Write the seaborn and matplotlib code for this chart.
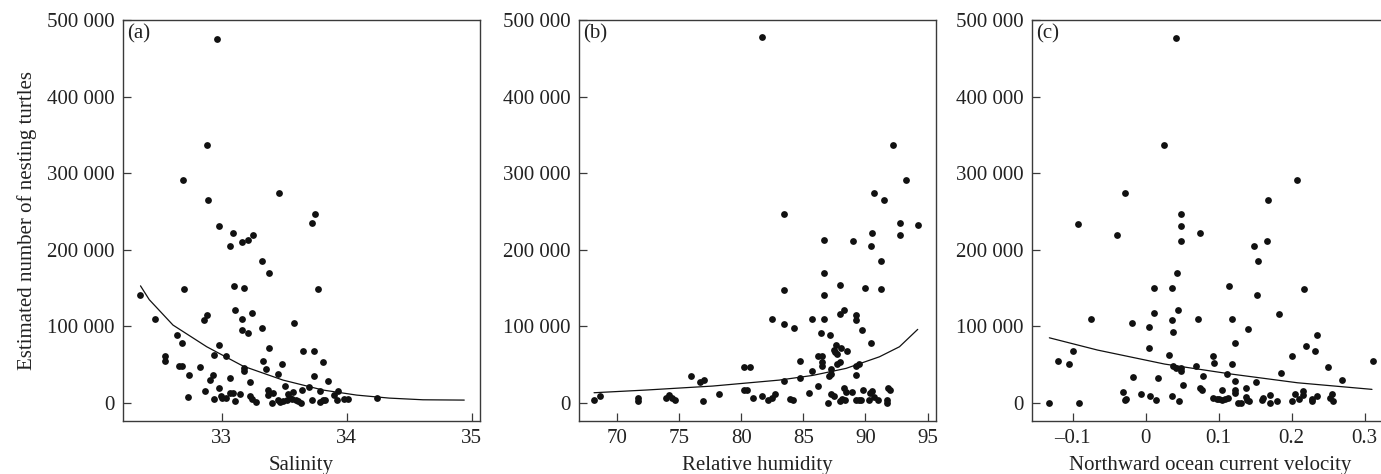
import numpy as np
import pandas as pd
import seaborn as sns
import matplotlib
matplotlib.use("Agg")
import matplotlib.pyplot as plt
from matplotlib.ticker import FuncFormatter, FixedLocator

# (a) salinity
salinity = [32.35, 32.47, 32.55, 32.55, 32.64, 32.68, 32.66, 32.68, 32.69, 32.70,
            32.74, 32.73, 32.83, 32.87, 32.86, 32.88, 32.88, 32.89, 32.91, 32.93,
            32.94, 32.94, 32.96, 32.98, 32.98, 32.98, 32.99, 33.00, 33.03, 33.03,
            33.07, 33.07, 33.09, 33.07, 33.09, 33.10, 33.11, 33.11, 33.15, 33.16,
            33.16, 33.16, 33.18, 33.18, 33.18, 33.21, 33.21, 33.25, 33.24, 33.23,
            33.23, 33.24, 33.27, 33.32, 33.32, 33.33, 33.35, 33.38, 33.38, 33.37,
            33.37, 33.41, 33.40, 33.45, 33.45, 33.46, 33.48, 33.47, 33.49, 33.51,
            33.52, 33.53, 33.55, 33.56, 33.58, 33.57, 33.59, 33.61, 33.63, 33.64,
            33.65, 33.70, 33.72, 33.72, 33.74, 33.74, 33.75, 33.77, 33.79, 33.79,
            33.81, 33.81, 33.83, 33.85, 33.90, 33.93, 33.92, 33.98, 34.01, 34.24]
turtles_a = [141100, 110200, 61400, 54900, 89300, 78800, 48300, 48300, 290900, 148500,
             37000, 8300, 46600, 15700, 108400, 115400, 336200, 264800, 29600, 36100,
             63100, 4800, 475600, 231700, 75300, 20000, 8700, 7000, 7000, 61800,
             32700, 205600, 222100, 13500, 13100, 152900, 121100, 3000, 11800, 210800,
             110200, 95800, 150700, 45300, 41800, 212500, 91500, 219500, 117600, 27000,
             9600, 5200, 1700, 185500, 98400, 54400, 44900, 169800, 71400, 16500,
             10500, 13100, 400, 38300, 3500, 274800, 51000, 1300, 2200, 22200,
             3500, 11300, 7000, 5200, 104100, 14800, 3500, 2600, 400, 16500,
             67900, 20900, 235200, 3500, 67900, 34800, 247400, 149400, 15700, 1300,
             3500, 53600, 3500, 28700, 10000, 15200, 3500, 5700, 5200, 6500]
sal_fit_x = [32.35, 32.42, 32.61, 32.88, 33.17, 33.49, 33.81, 34.08, 34.34, 34.61, 34.94]
sal_fit_y = [153000, 135000, 101800, 73500, 48300, 30000, 17000, 10400, 6500, 4300, 3900]

# (b) relative humidity
humidity = [68.17, 68.68, 71.72, 71.72, 73.97, 74.19, 74.43, 74.67, 75.93, 76.71,
            76.98, 76.95, 78.21, 80.23, 80.74, 80.20, 80.47, 80.95, 81.70, 81.70,
            82.16, 82.46, 82.72, 82.48, 83.48, 83.48, 83.48, 83.48, 83.96, 84.17,
            84.23, 84.71, 84.71, 85.46, 85.70, 85.70, 86.19, 86.19, 86.48, 86.46,
            86.48, 86.48, 86.70, 86.70, 86.70, 86.70, 86.97, 87.18, 87.23, 87.05,
            87.21, 87.23, 87.50, 87.45, 87.58, 87.66, 87.72, 87.99, 87.72, 87.96,
            87.93, 87.93, 88.26, 87.93, 88.12, 88.26, 88.44, 88.39, 88.52, 88.90,
            88.98, 89.22, 89.22, 89.22, 89.22, 89.49, 89.25, 89.49, 89.65, 89.73,
            89.76, 89.95, 90.27, 90.40, 90.51, 90.46, 90.46, 90.51, 90.70, 90.67,
            91.02, 91.21, 91.21, 91.45, 91.72, 91.72, 91.80, 92.01, 92.20, 92.74,
            92.74, 93.22, 94.20]
turtles_b = [3500, 9100, 6500, 2200, 7000, 10000, 6500, 3500, 34800, 27400,
             30500, 2200, 12200, 46600, 46600, 16500, 16500, 6500, 477300, 8700,
             3500, 6500, 11800, 109700, 246900, 148100, 103600, 28300, 5700, 4400,
             98400, 54900, 32700, 13100, 109700, 41800, 22600, 61400, 61400, 91900,
             53600, 48300, 212500, 170300, 140700, 109700, 500, 88400, 44900, 35300,
             37500, 12200, 8700, 68800, 66600, 75300, 63600, 71900, 51400, 53600,
             153700, 116700, 121100, 2200, 5700, 20000, 14400, 3500, 67900, 14400,
             211200, 115400, 108000, 37000, 48300, 50500, 4400, 3500, 4400, 95800,
             16500, 150700, 3500, 13100, 15200, 78800, 205600, 222100, 274800, 7800,
             3500, 186000, 148900, 265200, 3500, 500, 19600, 17400, 337500, 235200,
             219900, 290900, 232000]
hum_fit_x = [68.17, 72.33, 77.70, 83.07, 85.75, 88.44, 91.12, 92.73, 94.20]
hum_fit_y = [13500, 17000, 22200, 30000, 36100, 45300, 60400, 73500, 96200]

# (c) northward ocean current velocity
velocity = [-0.133, -0.120, -0.105, -0.099, -0.093, -0.091, -0.075, -0.040, -0.031, -0.028,
            -0.027, -0.028, -0.019, -0.017, -0.007, 0.004, 0.005, 0.006, 0.011, 0.012,
            0.014, 0.017, 0.025, 0.032, 0.036, 0.036, 0.036, 0.037, 0.037, 0.041,
            0.043, 0.044, 0.042, 0.046, 0.049, 0.049, 0.049, 0.049, 0.049, 0.051,
            0.071, 0.069, 0.075, 0.074, 0.077, 0.078, 0.092, 0.094, 0.092, 0.097,
            0.100, 0.104, 0.104, 0.108, 0.113, 0.112, 0.114, 0.118, 0.118, 0.122,
            0.122, 0.122, 0.123, 0.126, 0.130, 0.138, 0.137, 0.139, 0.142, 0.140,
            0.149, 0.151, 0.153, 0.154, 0.160, 0.161, 0.166, 0.168, 0.170, 0.170,
            0.180, 0.183, 0.185, 0.200, 0.200, 0.204, 0.207, 0.210, 0.215, 0.216,
            0.217, 0.219, 0.228, 0.228, 0.232, 0.234, 0.235, 0.250, 0.253, 0.255,
            0.257, 0.269, 0.312]
turtles_c = [400, 54400, 50500, 67900, 234300, 0, 110200, 219100, 14400, 3500,
             5200, 274800, 104500, 34000, 12200, 98900, 71400, 9100, 117600, 150700,
             3500, 32700, 337100, 63100, 149800, 108400, 9600, 92800, 48800, 476900,
             169800, 121100, 45700, 2200, 246900, 231700, 212100, 45300, 41800, 23100,
             110200, 48800, 221700, 20000, 16500, 35700, 61000, 52300, 6100, 5200,
             4800, 4400, 16500, 4800, 6500, 37500, 153300, 51000, 110200, 78400,
             28300, 16500, 13100, 0, 400, 19200, 7800, 4400, 2200, 96200,
             205600, 27000, 140700, 185500, 4400, 6500, 212100, 265200, 10000, 0,
             2200, 115800, 39200, 2200, 61400, 12200, 291800, 5700, 15200, 10000,
             148900, 74500, 5700, 2600, 67900, 89300, 8700, 46600, 6500, 12200,
             2600, 30500, 55300]
vel_fit_x = [-0.132, -0.066, 0.026, 0.117, 0.208, 0.310]
vel_fit_y = [85200, 69200, 50900, 37900, 26500, 17900]

panels = [
    ("(a)", "Salinity", salinity, turtles_a, sal_fit_x, sal_fit_y,
     (32.21, 35.066), [33, 34, 35]),
    ("(b)", "Relative humidity", humidity, turtles_b, hum_fit_x, hum_fit_y,
     (66.96, 95.67), [70, 75, 80, 85, 90, 95]),
    ("(c)", "Northward ocean current velocity", velocity, turtles_c, vel_fit_x, vel_fit_y,
     (-0.1562, 0.3329), [-0.1, 0, 0.1, 0.2, 0.3]),
]

sns.set_theme(style="ticks")
plt.rcParams['font.family'] = ['Liberation Serif', 'DejaVu Serif']
text_col = "#222222"
spine_col = "#3a3a3a"
fs = 15


def y_fmt(v, pos):
    return f"{int(round(v)):,}".replace(",", " ")


def x_fmt(v, pos):
    s = f"{v:g}"
    return s.replace("-", "\u2013")


fig = plt.figure(figsize=(13.81, 4.74), dpi=100)
lefts = [123 / 1381, 579 / 1381, 1031.7 / 1381]
w = 357 / 1381
b = (474 - 420.7) / 474
h = 400.7 / 474

for i, (tag, xlabel, xs, ys, fx, fy, xlim, xticks) in enumerate(panels):
    ax = fig.add_axes([lefts[i], b, w, h])
    df = pd.DataFrame({"x": xs, "y": ys})
    fit = pd.DataFrame({"x": fx, "y": fy})
    sns.scatterplot(data=df, x="x", y="y", ax=ax, color="#111111", s=24,
                    linewidth=0, legend=False)
    sns.lineplot(data=fit, x="x", y="y", ax=ax, color="#111111", linewidth=0.9,
                 sort=True, estimator=None)
    ax.set_xlim(*xlim)
    ax.set_ylim(-23000, 500000)
    ax.xaxis.set_major_locator(FixedLocator(xticks))
    ax.yaxis.set_major_locator(FixedLocator([0, 100000, 200000, 300000, 400000, 500000]))
    ax.xaxis.set_major_formatter(FuncFormatter(x_fmt))
    ax.yaxis.set_major_formatter(FuncFormatter(y_fmt))
    ax.tick_params(direction="in", length=6, width=0.9, color=spine_col,
                   labelsize=fs, labelcolor=text_col)
    ax.tick_params(axis="x", pad=6)
    ax.tick_params(axis="y", pad=6)
    for sp in ax.spines.values():
        sp.set_color(spine_col)
        sp.set_linewidth(1.0)
    ax.set_xlabel(xlabel, fontsize=fs, color=text_col, labelpad=6)
    if i == 0:
        ax.set_ylabel("Estimated number of nesting turtles", fontsize=fs,
                      color=text_col, labelpad=7)
    else:
        ax.set_ylabel("")
    ax.text(0.012, 0.99, tag, transform=ax.transAxes, ha="left", va="top",
            fontsize=fs, color=text_col)

fig.savefig("out.png", dpi=100)
